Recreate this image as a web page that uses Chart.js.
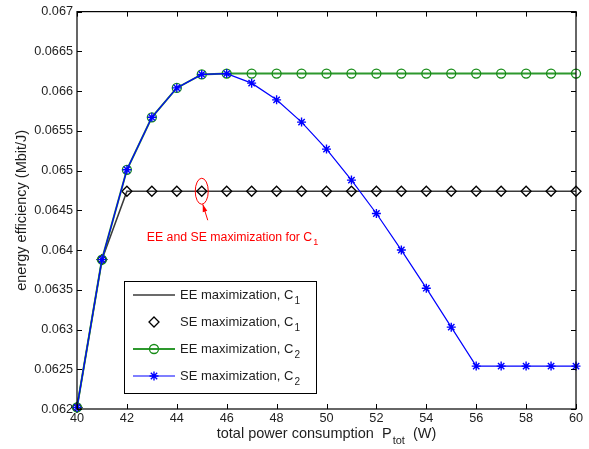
<!DOCTYPE html>
<html>
<head>
<meta charset="utf-8">
<script src="https://cdn.jsdelivr.net/npm/chart.js@4.4.1/dist/chart.umd.min.js"></script>
<style>
    html, body { margin: 0; padding: 0; background: #ffffff; }
    #eeChart { display: block; }
</style>
</head>
<body>
<canvas id="eeChart" width="589" height="449" style="width:589px;height:449px"></canvas>
<script>
// total power consumption (W)
const powerW = [40, 41, 42, 43, 44, 45, 46, 47, 48, 49, 50, 51, 52, 53, 54, 55, 56, 57, 58, 59, 60];

// energy efficiency (Mbit/J)
const eeMaxC1 = [0.06202, 0.06388, 0.06474, 0.06474, 0.06474, 0.06474, 0.06474, 0.06474, 0.06474, 0.06474, 0.06474,
                 0.06474, 0.06474, 0.06474, 0.06474, 0.06474, 0.06474, 0.06474, 0.06474, 0.06474, 0.06474];
const seMaxC1 = [0.06202, 0.06388, 0.06474, 0.06474, 0.06474, 0.06474, 0.06474, 0.06474, 0.06474, 0.06474, 0.06474,
                 0.06474, 0.06474, 0.06474, 0.06474, 0.06474, 0.06474, 0.06474, 0.06474, 0.06474, 0.06474];
const eeMaxC2 = [0.06202, 0.06388, 0.06501, 0.06567, 0.06604, 0.06621, 0.06622, 0.06622, 0.06622, 0.06622, 0.06622,
                 0.06622, 0.06622, 0.06622, 0.06622, 0.06622, 0.06622, 0.06622, 0.06622, 0.06622, 0.06622];
const seMaxC2 = [0.06202, 0.06388, 0.06501, 0.06567, 0.06604, 0.06621, 0.06622, 0.06610, 0.06589, 0.06561, 0.06527,
                 0.06488, 0.06446, 0.06400, 0.06352, 0.06303, 0.06254, 0.06254, 0.06254, 0.06254, 0.06254];

const FONT = "'Liberation Sans', Arial, Helvetica, sans-serif";
const TEXT_COLOR = '#1e1e1e';

function toPoints(values) {
    return powerW.map((p, i) => ({ x: p, y: values[i] }));
}

// draws "main" followed by a subscript, left aligned at x, vertically centred on y
function drawSubText(ctx, main, sub, after, x, y, size, color) {
    ctx.save();
    ctx.fillStyle = color;
    ctx.textAlign = 'left';
    ctx.textBaseline = 'middle';
    ctx.font = size + 'px ' + FONT;
    ctx.fillText(main, x, y);
    let cx = x + ctx.measureText(main).width;
    ctx.font = Math.round(size * 0.75) + 'px ' + FONT;
    ctx.fillText(sub, cx + 1, y + size * 0.45);
    cx += 1 + ctx.measureText(sub).width;
    if (after) {
        ctx.font = size + 'px ' + FONT;
        ctx.fillText(after, cx, y);
    }
    ctx.restore();
}

function subTextWidth(ctx, main, sub, after, size) {
    ctx.save();
    ctx.font = size + 'px ' + FONT;
    let w = ctx.measureText(main + (after || '')).width;
    ctx.font = Math.round(size * 0.75) + 'px ' + FONT;
    w += 1 + ctx.measureText(sub).width;
    ctx.restore();
    return w;
}

// small marker drawer for the legend (same look as the datasets)
function drawMarker(ctx, style, x, y, r, color, width) {
    ctx.save();
    ctx.strokeStyle = color;
    ctx.lineWidth = width;
    ctx.beginPath();
    if (style === 'circle') {
        ctx.arc(x, y, r, 0, Math.PI * 2);
    } else if (style === 'rectRot') {
        ctx.moveTo(x, y - r);
        ctx.lineTo(x + r, y);
        ctx.lineTo(x, y + r);
        ctx.lineTo(x - r, y);
        ctx.closePath();
    } else if (style === 'star') {
        for (let k = 0; k < 4; k++) {
            const a = k * Math.PI / 4;
            ctx.moveTo(x - Math.cos(a) * r, y - Math.sin(a) * r);
            ctx.lineTo(x + Math.cos(a) * r, y + Math.sin(a) * r);
        }
    }
    ctx.stroke();
    ctx.restore();
}

// frame, inward ticks, x title, legend and the red annotation
const matlabLook = {
    id: 'matlabLook',
    afterDraw(chart) {
        const ctx = chart.ctx;
        const area = chart.chartArea;
        const xs = chart.scales.x;
        const ys = chart.scales.y;

        // box round the plot
        ctx.save();
        ctx.strokeStyle = '#000000';
        ctx.lineWidth = 1.2;
        ctx.strokeRect(area.left, area.top, area.right - area.left, area.bottom - area.top);

        // ticks pointing in, on all four sides
        const tl = 5;
        ctx.beginPath();
        xs.ticks.forEach(t => {
            const px = Math.round(xs.getPixelForValue(t.value)) + 0.5;
            ctx.moveTo(px, area.bottom);
            ctx.lineTo(px, area.bottom - tl);
            ctx.moveTo(px, area.top);
            ctx.lineTo(px, area.top + tl);
        });
        ys.ticks.forEach(t => {
            const py = Math.round(ys.getPixelForValue(t.value)) + 0.5;
            ctx.moveTo(area.left, py);
            ctx.lineTo(area.left + tl, py);
            ctx.moveTo(area.right, py);
            ctx.lineTo(area.right - tl, py);
        });
        ctx.lineWidth = 1;
        ctx.stroke();
        ctx.restore();

        // x axis title with subscript
        const tSize = 14.5;
        const tw = subTextWidth(ctx, 'total power consumption  P', 'tot', '  (W)', tSize);
        const titleX = (area.left + area.right) / 2 - tw / 2;
        drawSubText(ctx, 'total power consumption  P', 'tot', '  (W)', titleX, 434, tSize, TEXT_COLOR);

        // legend box
        const lg = { left: 124, top: 281, width: 192, height: 112 };
        ctx.save();
        ctx.fillStyle = '#ffffff';
        ctx.fillRect(lg.left, lg.top, lg.width, lg.height);
        ctx.strokeStyle = '#000000';
        ctx.lineWidth = 1;
        ctx.strokeRect(lg.left + 0.5, lg.top + 0.5, lg.width, lg.height);
        ctx.restore();

        const rows = chart.data.datasets.slice();
        rows.sort((a, b) => a.legendRow - b.legendRow);
        rows.forEach((ds, i) => {
            const ry = lg.top + 14 + i * 27;
            if (ds.showLine !== false) {
                ctx.save();
                ctx.strokeStyle = ds.borderColor;
                ctx.lineWidth = ds.borderWidth;
                ctx.beginPath();
                ctx.moveTo(133, ry);
                ctx.lineTo(175, ry);
                ctx.stroke();
                ctx.restore();
            }
            if (ds.pointRadius > 0) {
                drawMarker(ctx, ds.pointStyle, 154, ry, ds.pointRadius, ds.pointBorderColor, ds.pointBorderWidth);
            }
            drawSubText(ctx, ds.legendMain, ds.legendSub, '', 180, ry, 13, TEXT_COLOR);
        });

        // red note pointing at the C1 optimum
        const ax = xs.getPixelForValue(45);
        const ay = ys.getPixelForValue(eeMaxC1[5]);
        ctx.save();
        ctx.strokeStyle = '#ff0000';
        ctx.fillStyle = '#ff0000';
        ctx.lineWidth = 1;
        ctx.beginPath();
        ctx.ellipse(ax, ay, 6.5, 13, 0, 0, Math.PI * 2);
        ctx.stroke();
        const tipX = ax + 1, tipY = ay + 13;
        const tailX = ax + 6, tailY = ay + 29;
        ctx.beginPath();
        ctx.moveTo(tailX, tailY);
        ctx.lineTo(tipX, tipY);
        ctx.stroke();
        const ang = Math.atan2(tipY - tailY, tipX - tailX);
        ctx.beginPath();
        ctx.moveTo(tipX, tipY);
        ctx.lineTo(tipX - 8 * Math.cos(ang - 0.3), tipY - 8 * Math.sin(ang - 0.3));
        ctx.lineTo(tipX - 8 * Math.cos(ang + 0.3), tipY - 8 * Math.sin(ang + 0.3));
        ctx.closePath();
        ctx.fill();
        ctx.restore();
        drawSubText(ctx, 'EE and SE maximization for C', '1', '', ax - 55, ay + 46, 12.3, '#ff0000');
    }
};

const ctx = document.getElementById('eeChart').getContext('2d');

const config = {
    type: 'line',
    data: {
        datasets: [
            {
                label: 'SE maximization, C2',
                legendMain: 'SE maximization, C', legendSub: '2', legendRow: 3,
                data: toPoints(seMaxC2),
                borderColor: '#0000ff',
                borderWidth: 1.2,
                pointStyle: 'star',
                pointRadius: 4.5,
                pointBorderColor: '#0000ff',
                pointBorderWidth: 1.4,
                pointBackgroundColor: '#0000ff',
                tension: 0,
                clip: false,
                order: 1
            },
            {
                label: 'EE maximization, C2',
                legendMain: 'EE maximization, C', legendSub: '2', legendRow: 2,
                data: toPoints(eeMaxC2),
                borderColor: '#2d982d',
                borderWidth: 2,
                pointStyle: 'circle',
                pointRadius: 4.5,
                pointBorderColor: '#178c17',
                pointBorderWidth: 1.3,
                pointBackgroundColor: 'rgba(0,0,0,0)',
                tension: 0,
                clip: false,
                order: 2
            },
            {
                label: 'SE maximization, C1',
                legendMain: 'SE maximization, C', legendSub: '1', legendRow: 1,
                data: toPoints(seMaxC1),
                showLine: false,
                borderColor: '#000000',
                borderWidth: 1,
                pointStyle: 'rectRot',
                pointRadius: 5,
                pointBorderColor: '#000000',
                pointBorderWidth: 1.3,
                pointBackgroundColor: 'rgba(0,0,0,0)',
                clip: false,
                order: 3
            },
            {
                label: 'EE maximization, C1',
                legendMain: 'EE maximization, C', legendSub: '1', legendRow: 0,
                data: toPoints(eeMaxC1),
                borderColor: '#3a3a3a',
                borderWidth: 1.6,
                pointRadius: 0,
                tension: 0,
                clip: false,
                order: 4
            }
        ]
    },
    options: {
        responsive: false,
        animation: false,
        devicePixelRatio: 1,
        layout: {
            padding: { left: 0, right: 13, top: 9, bottom: 0 }
        },
        scales: {
            x: {
                type: 'linear',
                min: 40,
                max: 60,
                ticks: {
                    stepSize: 2,
                    padding: 2,
                    maxRotation: 0,
                    color: TEXT_COLOR,
                    font: { family: FONT, size: 12.7 }
                },
                grid: { display: false, drawTicks: false },
                border: { display: false },
                afterFit: scale => { scale.height = 40; }
            },
            y: {
                type: 'linear',
                min: 0.062,
                max: 0.067,
                ticks: {
                    stepSize: 0.0005,
                    padding: 4,
                    color: TEXT_COLOR,
                    font: { family: FONT, size: 12.7 },
                    callback: v => String(parseFloat(v.toFixed(4)))
                },
                grid: { display: false, drawTicks: false },
                border: { display: false },
                title: {
                    display: true,
                    text: 'energy efficiency (Mbit/J)',
                    color: TEXT_COLOR,
                    font: { family: FONT, size: 14.5 },
                    padding: { top: 13, bottom: 0 }
                },
                afterFit: scale => { scale.width = 77; }
            }
        },
        plugins: {
            legend: { display: false },
            tooltip: { enabled: false }
        }
    },
    plugins: [matlabLook]
};

const eeChart = new Chart(ctx, config);
</script>
</body>
</html>
